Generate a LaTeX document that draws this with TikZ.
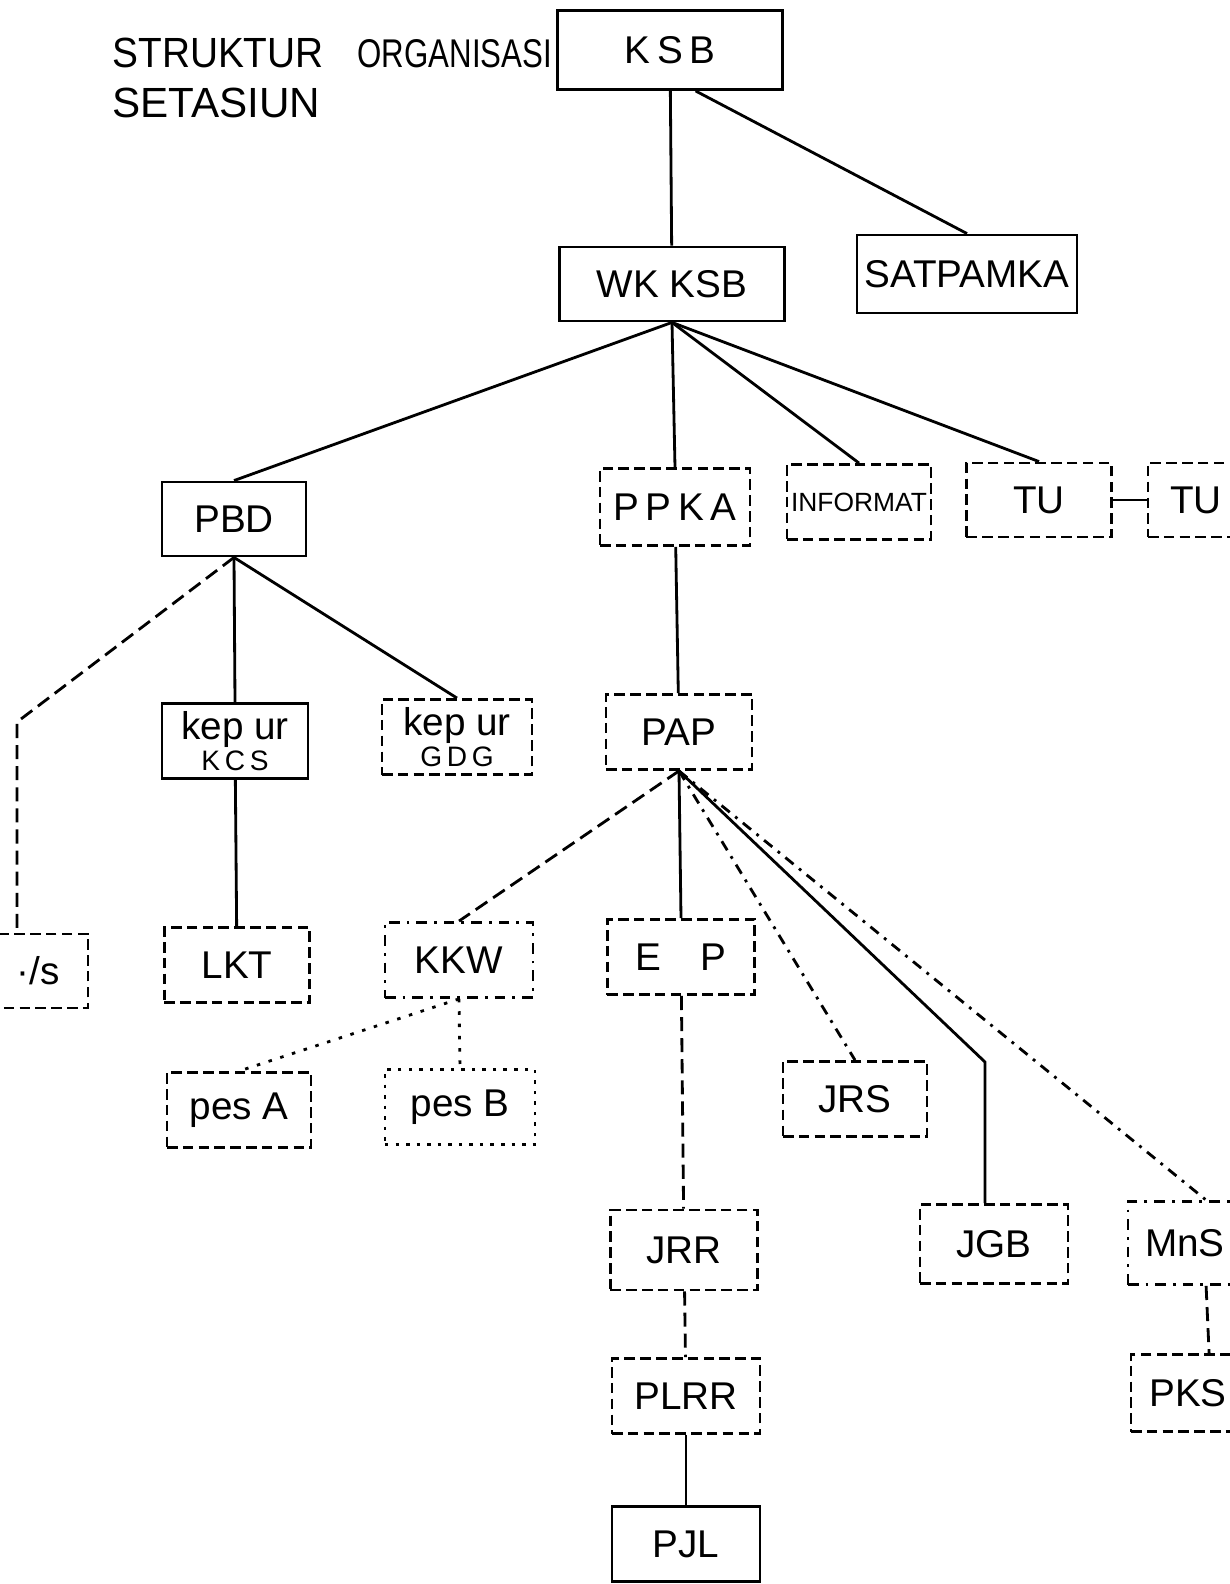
\documentclass[tikz,border=0pt]{standalone}
\usepackage{fontspec}
\setmainfont{Liberation Sans}

\begin{document}
\begin{tikzpicture}[x={(0.01cm,0)},y={(0,-0.01cm)},thick,
    font=\fontsize{11}{13}\selectfont,
    base box/.style={draw,minimum width=1.46cm,minimum height=0.75cm,inner sep=1pt},
    solid box/.style={base box},
    dash box/.style={base box,dash pattern=on 3pt off 1.5pt},
    dot box/.style={base box,dash pattern=on 1pt off 2pt},
    dd box/.style={base box,dash dot},
    dash link/.style={dash pattern=on 4pt off 2pt},
    dd link/.style={dash dot},
    dot link/.style={dash pattern=on 1pt off 2.5pt}]

  \useasboundingbox (0,0) rectangle (1229,1584);

  % title
  \node[anchor=west,inner sep=0pt,font=\fontsize{12}{14}\selectfont] (title1) at (111,53)
       {\scalebox{0.92}[1]{STRUKTUR}\hspace{0.8em}\scalebox{0.74}[0.95]{ORGANISASI}};
  \node[anchor=west,inner sep=0pt,font=\fontsize{12}{14}\selectfont] (title2) at (111,103) {SETASIUN};

  % top levels
  \node[solid box,minimum width=2.25cm,minimum height=0.79cm] (ksb) at (670,50) {K\,S\,B};
  \node[solid box,minimum width=2.25cm,minimum height=0.74cm] (wkksb) at (672,284) {WK KSB};
  \node[solid box,minimum width=2.2cm,minimum height=0.78cm] (satpamka) at (967,274) {SATPAMKA};

  \node[solid box,minimum width=1.44cm,minimum height=0.74cm] (pbd) at (234,519) {PBD};
  \node[dash box,minimum width=1.5cm,minimum height=0.77cm] (ppka) at (675,507) {P\,P\,K\,A};
  \node[dash box,minimum width=1.44cm] (informat) at (859,502) {\fontsize{7.5}{9}\selectfont INFORMAT};
  \node[dash box,minimum width=1.45cm,minimum height=0.74cm] (tu) at (1039,500) {TU};
  \node[dash box,minimum width=0.96cm,minimum height=0.74cm] (tub) at (1196,500) {TU};

  % under PBD
  \node[dash box,minimum width=1.0cm,minimum height=0.74cm] (ujung) at (38,971) {·/s};
  \node[solid box,align=center] (kcs) at (235,741) {kep ur\\[-4pt]{\fontsize{8}{8}\selectfont K\,C\,S}};
  \node[dash box,align=center,minimum width=1.5cm] (gdg) at (457,737) {kep ur\\[-4pt]{\fontsize{8}{8}\selectfont G\,D\,G}};
  \node[dash box,minimum width=1.45cm] (lkt) at (237,965) {LKT};

  % under PPKA
  \node[dash box] (pap) at (679,732) {PAP};
  \node[dd box,minimum width=1.48cm] (kkw) at (459,960) {KKW};
  \node[dash box,minimum width=1.47cm] (ep) at (681,957) {E\quad P};
  \node[dash box,minimum width=1.44cm] (pesa) at (239,1110) {pes A};
  \node[dot box,minimum width=1.5cm] (pesb) at (460,1107) {pes B};
  \node[dash box,minimum width=1.44cm] (jrs) at (855,1099) {JRS};
  \node[dash box,minimum width=1.47cm,minimum height=0.8cm] (jrr) at (684,1250) {JRR};
  \node[dash box,minimum width=1.48cm,minimum height=0.79cm] (jgb) at (994,1244) {JGB};
  \node[dd box,minimum width=1.14cm,minimum height=0.83cm] (mns) at (1185,1243) {MnS};
  \node[dash box,minimum width=1.14cm,minimum height=0.77cm] (pks) at (1188,1393) {PKS};
  \node[dash box,minimum width=1.48cm] (plrr) at (686,1396) {PLRR};
  \node[solid box,minimum width=1.48cm] (pjl) at (686,1544) {PJL};

  \coordinate (pbdbend) at (17,722);
  \coordinate (jgbbend) at (985,1062);

  \path (ksb) edge (wkksb)
        (ksb.-58) edge (satpamka.north)
        (wkksb.south) edge (pbd.north)
        (wkksb.south) edge (ppka.north)
        (wkksb.south) edge (informat.north)
        (wkksb.south) edge (tu.north)
        (tu) edge (tub)

        (pbd.south) edge (kcs.north)
        (pbd.south) edge (gdg.north)
        (kcs) edge (lkt)
        (ppka) edge (pap)

        (pap.south) edge[dash link] (kkw.north)
        (pap.south) edge (ep.north)
        (pap.south) edge[dd link] (jrs.north)
        (pap.south) edge[dd link] ([xshift=6pt]mns.north)
        (kkw.south) edge[dot link] (pesa.north)
        (kkw.south) edge[dot link] (pesb.north)
        (ep) edge[dash link] (jrr)
        (jrr) edge[dash link] (plrr)
        (plrr) edge (pjl)
        ([xshift=6pt]mns.south) edge[dash link] ([xshift=6pt]pks.north);

  \draw[dash link] (pbd.south) -- (pbdbend) -- (pbdbend |- ujung.north);
  \draw (pap.south) -- (jgbbend) -- (jgbbend |- jgb.north);
\end{tikzpicture}
\end{document}
